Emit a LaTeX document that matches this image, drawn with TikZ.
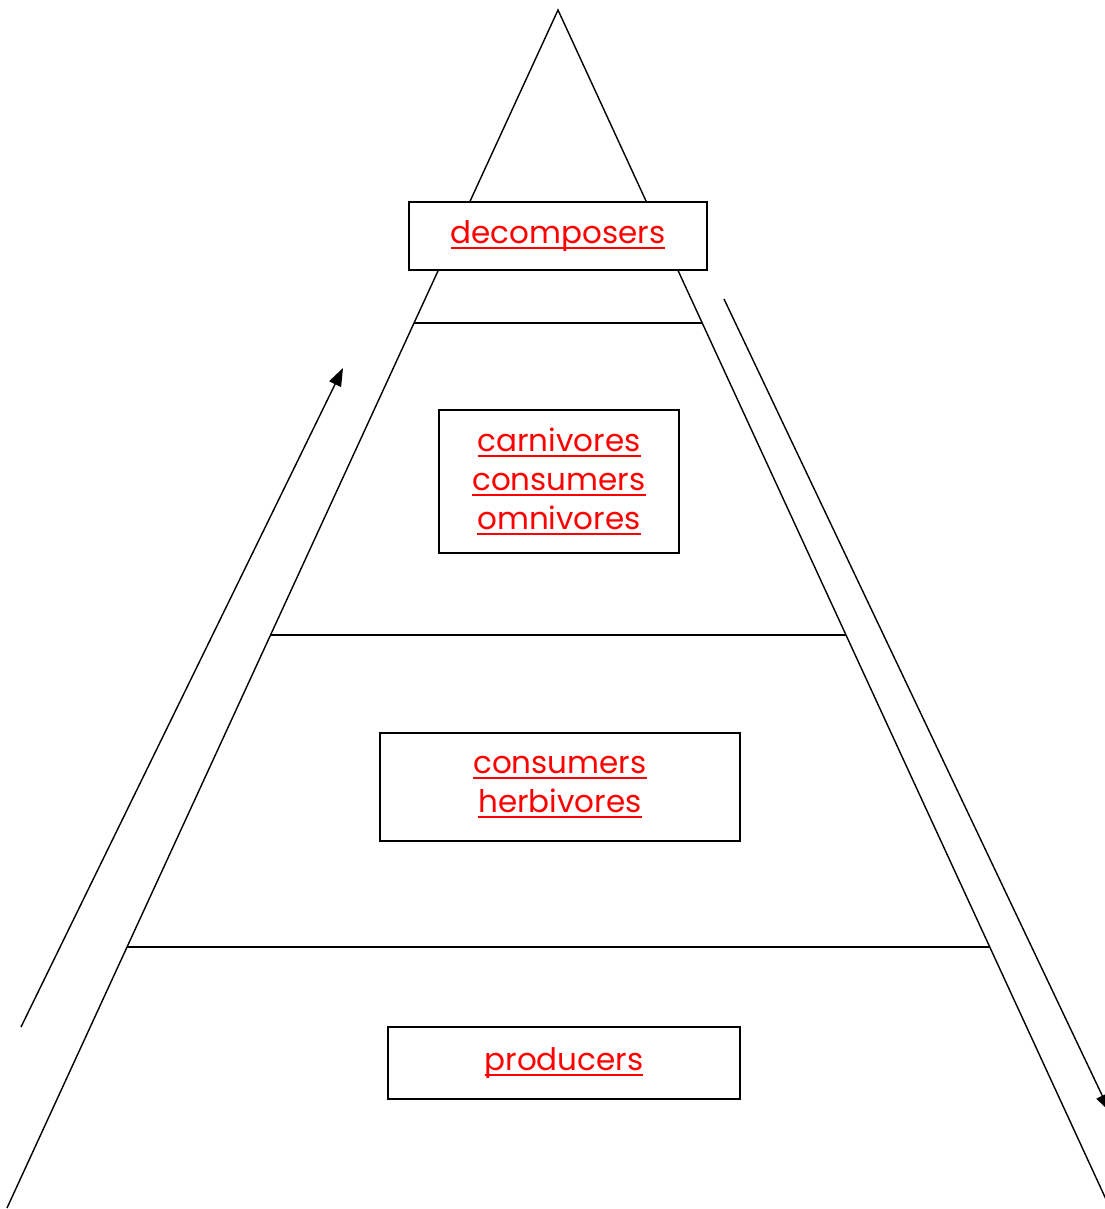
\documentclass[tikz,border=0pt]{standalone}
\usepackage{fontspec}
\setmainfont{Poppins}
\usetikzlibrary{arrows.meta, positioning, calc}
\definecolor{labelred}{RGB}{255, 0, 0}
\newcommand{\redul}[1]{\setbox0\hbox{#1}\rlap{\rule[-6pt]{\wd0}{2.2pt}}\box0}

\tikzset{
  levelbox/.style={draw, fill=white, line width=1.4pt, inner sep=0pt,
    text=labelred, align=center, font=\fontsize{31}{39}\selectfont},
  flow/.style={line width=1.4pt, -{Triangle[length=18pt,width=13pt]}}
}

\begin{document}
\begin{tikzpicture}[x=1pt, y=-1pt, line width=1.4pt]
\useasboundingbox (0,0) rectangle (1104,1209);
% pyramid outline
\coordinate (apex) at (558,10);
\coordinate (bl) at (7,1208);
\coordinate (br) at (1110,1208);
\draw (bl) -- (apex) -- (br);
% level lines
\foreach \t in {0.2613,0.5217,0.7821} {
    \draw ($(apex)!\t!(bl)$) -- ($(apex)!\t!(br)$);
}
% labels
\node[levelbox, minimum width=298pt, minimum height=68pt] (decomp) at (558,236) {\redul{decomposers}};
\node[levelbox, minimum width=240pt, minimum height=143pt] (carni) at (559,481.5) {\redul{carnivores}\\\redul{consumers}\\\redul{omnivores}};
\node[levelbox, minimum width=360pt, minimum height=108pt] (herbi) at (560,787) {\redul{consumers}\\\redul{herbivores}};
\node[levelbox, minimum width=352pt, minimum height=72pt] (prod) at (564,1063) {\redul{producers}};
% energy arrows
\coordinate (upstart) at (21,1027);
\coordinate (upend) at (343,368);
\coordinate (downstart) at (724,299);
\coordinate (downend) at (1110,1112);
\draw[flow] (upstart) -- (upend);
\draw[flow] (downstart) -- (downend);
\end{tikzpicture}
\end{document}
